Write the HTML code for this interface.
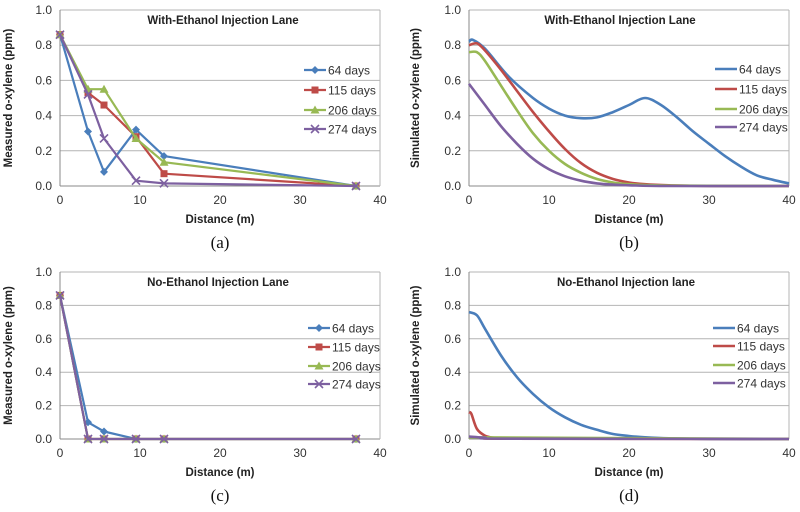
<!DOCTYPE html>
<html><head><meta charset="utf-8"><style>
body{margin:0;background:#fff;}
svg{display:block;font-family:"Liberation Sans",sans-serif;}
</style></head><body>
<svg id="fig" width="800" height="512" viewBox="0 0 800 512" xmlns="http://www.w3.org/2000/svg"></svg>
<script>
// ---- data ----
const seriesNames = ["64 days","115 days","206 days","274 days"];
const xTicks = [0,10,20,30,40];
const yTicks = [0,0.2,0.4,0.6,0.8,1.0];
const measX = [0,3.5,5.5,9.5,13,37];
const measA64 = [0.86,0.31,0.08,0.32,0.17,0];
const measA115 = [0.86,0.53,0.46,0.28,0.07,0];
const measA206 = [0.86,0.55,0.55,0.27,0.135,0];
const measA274 = [0.86,0.52,0.27,0.03,0.015,0];
const measC64 = [0.86,0.10,0.045,0,0,0];
const measC115 = [0.86,0,0,0,0,0];
const measC206 = [0.86,0,0,0,0,0];
const measC274 = [0.86,0,0,0,0,0];
const simB64x = [0,0.5,2,5,8,10,12,14,16,18,20,22,24,26,28,30,32,34,36,38,40];
const simB64y = [0.82,0.83,0.78,0.62,0.5,0.44,0.40,0.385,0.39,0.42,0.46,0.50,0.46,0.39,0.31,0.24,0.17,0.11,0.06,0.035,0.015];
const simB115x = [0,1,2,4,6,8,10,12,14,16,18,20,22,25,30,40];
const simB115y = [0.80,0.81,0.77,0.66,0.54,0.42,0.31,0.21,0.13,0.075,0.04,0.02,0.01,0.004,0,0];
const simB206x = [0,1,2,4,6,8,10,12,14,16,18,20,25,40];
const simB206y = [0.76,0.76,0.71,0.57,0.43,0.30,0.20,0.125,0.075,0.04,0.02,0.01,0.002,0];
const simB274x = [0,2,4,6,8,10,12,14,16,18,20,25,40];
const simB274y = [0.58,0.46,0.34,0.24,0.155,0.095,0.055,0.03,0.015,0.008,0.004,0,0];
const simD64x = [0,1,2,4,6,8,10,12,14,16,18,20,22,25,30,40];
const simD64y = [0.76,0.74,0.66,0.50,0.37,0.27,0.19,0.13,0.085,0.055,0.03,0.018,0.01,0.004,0,0];
const simD115x = [0,0.3,1,2,3,5,40];
const simD115y = [0.16,0.15,0.06,0.02,0.008,0.002,0];
const simD206x = [0,40];
const simD206y = [0.01,0];
const simD274x = [0,2,5,40];
const simD274y = [0.015,0.008,0.002,0];

const colors=["#4a7ebb","#be4b48","#98b954","#7d60a0"];
const NS="http://www.w3.org/2000/svg";
const svg=document.getElementById('fig');
function el(tag,attrs,parent,text){const e=document.createElementNS(NS,tag);for(const k in attrs)e.setAttribute(k,attrs[k]);if(text!==undefined)e.textContent=text;(parent||svg).appendChild(e);return e;}
function smoothPath(P){
  let d=`M${P[0][0].toFixed(1)},${P[0][1].toFixed(1)}`;
  for(let i=0;i<P.length-1;i++){
    const p0=P[Math.max(i-1,0)],p1=P[i],p2=P[i+1],p3=P[Math.min(i+2,P.length-1)];
    const c1=[p1[0]+(p2[0]-p0[0])/6,p1[1]+(p2[1]-p0[1])/6];
    const c2=[p2[0]-(p3[0]-p1[0])/6,p2[1]-(p3[1]-p1[1])/6];
    d+=`C${c1[0].toFixed(1)},${c1[1].toFixed(1)} ${c2[0].toFixed(1)},${c2[1].toFixed(1)} ${p2[0].toFixed(1)},${p2[1].toFixed(1)}`;
  }
  return d;
}

function panel(p){
  const g=el('g',{});
  
  
  const sx=v=>p.l+(p.r-p.l)*v/40;
  const sy=v=>p.b-(p.b-p.t)*v/1.0;
  yTicks.forEach(t=>{
    const ln=el('line',{x1:p.l,x2:p.r,y1:sy(t),y2:sy(t),stroke:t===0?'#888':'#b4b4b4','stroke-width':1},g);
    
    
    const tx=el('text',{x:p.l-8,y:sy(t)+4,'text-anchor':'end','font-size':12,fill:'#333'},g,t.toFixed(1));
    
    
  });
  el('line',{x1:p.l,x2:p.l,y1:p.t,y2:p.b,stroke:'#888'},g);
  el('line',{x1:p.r,x2:p.r,y1:p.t,y2:p.b,stroke:'#b4b4b4'},g);
  xTicks.forEach(t=>{
    const tx=el('text',{x:sx(t),y:p.b+18,'text-anchor':'middle','font-size':12,fill:'#333'},g,String(t));
    
    
  });
  const xt=el('text',{x:(p.l+p.r)/2,y:p.b+37,'text-anchor':'middle','font-size':11.5,'font-weight':'bold',fill:'#222'},g,'Distance (m)');
  
  
  const cy=(p.t+p.b)/2;
  const yt=el('text',{x:p.yx,y:cy,'text-anchor':'middle','font-size':11.5,'font-weight':'bold',fill:'#222',transform:`rotate(-90 ${p.yx} ${cy})`},g,p.ytitle);
  
  
  const ti=el('text',{x:p.tx,y:p.t+14,'text-anchor':'middle','font-size':11.5,'font-weight':'bold',fill:'#222'},g,p.title);
  
  
  const cap=el('text',{x:(p.l+p.r)/2,y:p.b+62,'text-anchor':'middle','font-size':17,'font-family':'Liberation Serif',fill:'#111'},g,p.cap);
  
  
  p.series.forEach((s,i)=>{
    const P=s.x.map((x,j)=>[sx(x),sy(s.y[j])]);
    let pl;
    if(p.markers){
      pl=el('polyline',{points:P.map(q=>q[0].toFixed(1)+','+q[1].toFixed(1)).join(' '),fill:'none',stroke:colors[i],'stroke-width':2.2,'stroke-linejoin':'round'},g);
    } else {
      pl=el('path',{d:smoothPath(P),fill:'none',stroke:colors[i],'stroke-width':2.6,'stroke-linejoin':'round'},g);
    }
    
    
    if(p.markers) s.x.forEach((x,j)=>{const m=marker(g,i,sx(x),sy(s.y[j]));});
  });
  seriesNames.forEach((n,i)=>{
    const y=p.ly[i];
    const lg=el('g',{},g);
    
    
    el('line',{x1:p.lx,x2:p.lx+22,y1:y,y2:y,stroke:colors[i],'stroke-width':p.markers?2.2:2.6},lg);
    if(p.markers) marker(lg,i,p.lx+11,y);
    el('text',{x:p.lx+24,y:y+4.5,'font-size':12,fill:'#333'},lg,n);
  });
}
function marker(g,i,x,y){
  const c=colors[i];
  if(i===0) return el('polygon',{points:`${x},${y-4} ${x+4},${y} ${x},${y+4} ${x-4},${y}`,fill:c},g);
  if(i===1) return el('rect',{x:x-3.5,y:y-3.5,width:7,height:7,fill:c},g);
  if(i===2) return el('polygon',{points:`${x},${y-4.5} ${x+4.5},${y+3.5} ${x-4.5},${y+3.5}`,fill:c},g);
  return el('path',{d:`M${x-4},${y-4}L${x+4},${y+4}M${x-4},${y+4}L${x+4},${y-4}`,stroke:c,'stroke-width':1.6},g);
}
panel({id:'a',l:60,r:380,t:10,b:186,yx:12,tx:223,ytitle:'Measured o-xylene (ppm)',title:'With-Ethanol Injection Lane',cap:'(a)',markers:true,lx:304,ly:[70,90,110,129],
 series:[{x:measX,y:measA64},{x:measX,y:measA115},{x:measX,y:measA206},{x:measX,y:measA274}]});
panel({id:'b',l:469,r:789,t:10,b:186,yx:419,tx:620,ytitle:'Simulated o-xylene (ppm)',title:'With-Ethanol Injection Lane',cap:'(b)',markers:false,lx:715,ly:[69,89,109,127],
 series:[{x:simB64x,y:simB64y},{x:simB115x,y:simB115y},{x:simB206x,y:simB206y},{x:simB274x,y:simB274y}]});
panel({id:'c',l:60,r:380,t:272,b:439,yx:12,tx:218,ytitle:'Measured o-xylene (ppm)',title:'No-Ethanol Injection Lane',cap:'(c)',markers:true,lx:308,ly:[328,347,366,384],
 series:[{x:measX,y:measC64},{x:measX,y:measC115},{x:measX,y:measC206},{x:measX,y:measC274}]});
panel({id:'d',l:469,r:789,t:272,b:439,yx:419,tx:626,ytitle:'Simulated o-xylene (ppm)',title:'No-Ethanol Injection lane',cap:'(d)',markers:false,lx:713,ly:[328,346,365,383],
 series:[{x:simD64x,y:simD64y},{x:simD115x,y:simD115y},{x:simD206x,y:simD206y},{x:simD274x,y:simD274y}]});
</script>
</body></html>
